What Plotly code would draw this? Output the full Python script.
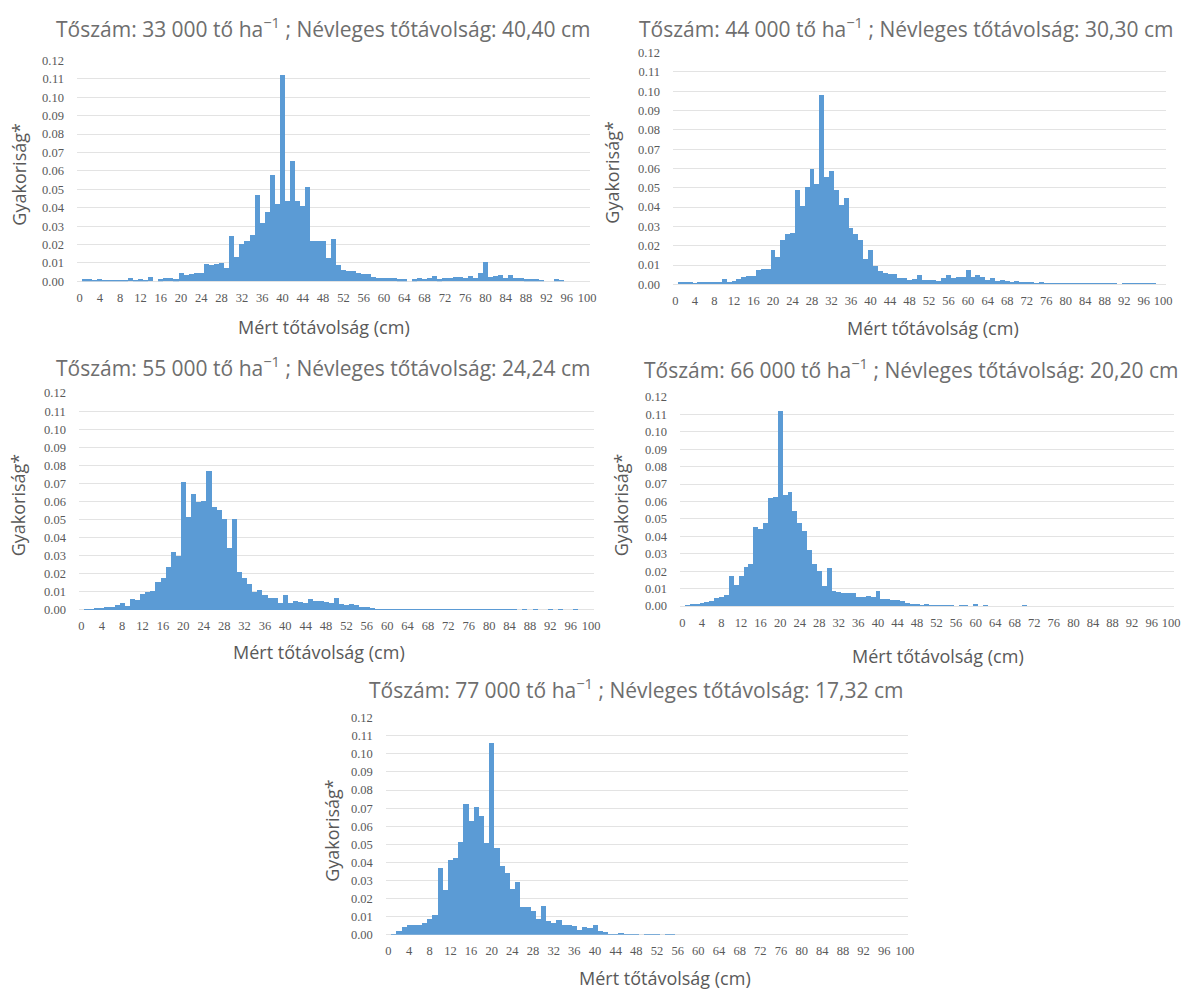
import plotly.graph_objects as go

W, H = 1199, 994

# ---- data: bin centres (cm) and relative frequencies -------------------------
bins = list(range(101))
x_tick_labels = list(range(0, 101, 4))

freq_33000 = [0, 0.001, 0.001, 0.0005, 0.001, 0.0005, 0.0005, 0.0007, 0.0007, 0.0007,
              0.0015, 0.0007, 0.001, 0.0008, 0.002, 0, 0.001, 0.0015, 0.0015, 0.001,
              0.0045, 0.0033, 0.004, 0.0042, 0.0045, 0.0095, 0.009, 0.0095, 0.0097, 0.007,
              0.0245, 0.0133, 0.02, 0.022, 0.0253, 0.0465, 0.0315, 0.0377, 0.0575, 0.042,
              0.112, 0.0434, 0.0655, 0.0434, 0.0407, 0.0513, 0.022, 0.022, 0.022, 0.0124,
              0.023, 0.0088, 0.0058, 0.0053, 0.0053, 0.0045, 0.004, 0.004, 0.0022, 0.0015,
              0.0018, 0.0015, 0.0018, 0.001, 0.001, 0, 0.001, 0.0018, 0.0012, 0.0015,
              0.0028, 0.001, 0.0018, 0.0015, 0.002, 0.002, 0.0015, 0.003, 0.0015, 0.0045,
              0.0105, 0.002, 0.0025, 0.0035, 0.0015, 0.0033, 0.0015, 0.0015, 0.001, 0.001,
              0.001, 0.0004, 0, 0, 0.001, 0.0008, 0, 0, 0, 0, 0]

freq_44000 = [0, 0.001, 0.0008, 0.0008, 0.0003, 0.001, 0.0006, 0.0006, 0.0006, 0.001,
              0.0024, 0.0012, 0.0017, 0.0026, 0.0035, 0.0042, 0.0042, 0.0072, 0.0079, 0.0075,
              0.0175, 0.0142, 0.0226, 0.0256, 0.0265, 0.0488, 0.0405, 0.05, 0.0596, 0.052,
              0.098, 0.0554, 0.0586, 0.0484, 0.0409, 0.0444, 0.0291, 0.0256, 0.023, 0.013,
              0.0175, 0.0091, 0.0068, 0.0056, 0.0053, 0.0053, 0.0033, 0.003, 0.002, 0.0025,
              0.0045, 0.002, 0.002, 0.002, 0.0015, 0.003, 0.0045, 0.003, 0.0035, 0.0035,
              0.007, 0.0035, 0.0045, 0.0035, 0.002, 0.003, 0.0015, 0.002, 0.0015, 0.0005,
              0.0015, 0.0005, 0.0005, 0.0008, 0.0003, 0.0008, 0.0003, 0.0003, 0.0003, 0.0003,
              0.0003, 0.0003, 0.0003, 0.0003, 0.0003, 0.0003, 0.0003, 0.0003, 0.0003, 0.0003,
              0.0003, 0, 0.0003, 0.0003, 0.0003, 0.0003, 0.0003, 0.0003, 0.0003, 0, 0]

freq_55000 = [0, 0.0002, 0.0005, 0.001, 0.001, 0.002, 0.0015, 0.0027, 0.0038, 0.0023,
              0.006, 0.0054, 0.0087, 0.01, 0.0108, 0.0155, 0.0177, 0.0236, 0.032, 0.0298,
              0.0709, 0.0516, 0.0643, 0.0597, 0.0606, 0.0767, 0.0569, 0.0556, 0.0505, 0.0345,
              0.0502, 0.0213, 0.0177, 0.0144, 0.0101, 0.011, 0.0081, 0.0069, 0.0069, 0.0042,
              0.0081, 0.0042, 0.005, 0.0045, 0.0042, 0.006, 0.005, 0.005, 0.0045, 0.0038,
              0.0067, 0.0032, 0.003, 0.0032, 0.0027, 0.002, 0.0015, 0.001, 0.0008, 0.0002,
              0.0002, 0.0005, 0.0002, 0.0003, 0.0002, 0.0002, 0.0002, 0.0002, 0.0002, 0.0002,
              0.0002, 0.0002, 0.0002, 0.0002, 0.0002, 0.0002, 0.0002, 0.0002, 0.0002, 0.0002,
              0.0002, 0.0002, 0.0002, 0.0002, 0.0002, 0.0002, 0, 0.0002, 0, 0.0002,
              0, 0, 0.0002, 0, 0.0002, 0, 0, 0.0002, 0, 0, 0]

freq_66000 = [0, 0.0004, 0.0011, 0.0015, 0.0019, 0.0022, 0.0028, 0.0045, 0.0053, 0.0062,
              0.0171, 0.0122, 0.0173, 0.0225, 0.024, 0.0456, 0.0441, 0.0477, 0.0621, 0.0629,
              0.1118, 0.0638, 0.0657, 0.0544, 0.0478, 0.043, 0.032, 0.024, 0.02, 0.0118,
              0.0221, 0.009, 0.0083, 0.0075, 0.0075, 0.0075, 0.0053, 0.0053, 0.006, 0.0053,
              0.0086, 0.0043, 0.004, 0.0037, 0.0034, 0.0028, 0.002, 0.0015, 0.0012, 0.0005,
              0.0015, 0.0006, 0.0005, 0.0003, 0.0002, 0.0002, 0, 0.0002, 0.0002, 0,
              0.001, 0, 0.0003, 0, 0, 0, 0, 0, 0, 0,
              0.0004, 0, 0, 0, 0, 0, 0, 0, 0, 0,
              0, 0, 0, 0, 0, 0, 0, 0, 0, 0,
              0, 0, 0, 0, 0, 0, 0, 0, 0, 0, 0]

freq_77000 = [0, 0.0004, 0.0022, 0.0045, 0.0054, 0.0054, 0.0054, 0.0065, 0.009, 0.0112,
              0.0373, 0.0248, 0.0413, 0.0424, 0.0516, 0.0725, 0.0634, 0.0707, 0.0661, 0.0507,
              0.106, 0.048, 0.038, 0.0344, 0.0257, 0.0293, 0.0154, 0.0154, 0.0136, 0.0087,
              0.0163, 0.0076, 0.0069, 0.0082, 0.0058, 0.0054, 0.0049, 0.0027, 0.0045, 0.004,
              0.0054, 0.0022, 0.0015, 0.0009, 0.0004, 0.001, 0.0003, 0.0005, 0.0005, 0,
              0.0003, 0.0003, 0.0003, 0, 0.0005, 0.0004, 0, 0, 0, 0,
              0, 0, 0, 0, 0, 0, 0, 0, 0, 0,
              0, 0, 0, 0, 0, 0, 0, 0, 0, 0,
              0, 0, 0, 0, 0, 0, 0, 0, 0, 0,
              0, 0, 0, 0, 0, 0, 0, 0, 0, 0, 0]

titles = [
    "Tőszám: 33 000 tő ha<sup>−1</sup> ; Névleges tőtávolság: 40,40 cm",
    "Tőszám: 44 000 tő ha<sup>−1</sup> ; Névleges tőtávolság: 30,30 cm",
    "Tőszám: 55 000 tő ha<sup>−1</sup> ; Névleges tőtávolság: 24,24 cm",
    "Tőszám: 66 000 tő ha<sup>−1</sup> ; Névleges tőtávolság: 20,20 cm",
    "Tőszám: 77 000 tő ha<sup>−1</sup> ; Névleges tőtávolság: 17,32 cm",
]
y_title = "Gyakoriság*"
x_title = "Mért tőtávolság (cm)"

series = [freq_33000, freq_44000, freq_55000, freq_66000, freq_77000]

# ---- layout geometry (pixels) ----------------------------------------------
geom = [
    dict(rect=(76.5, 592.5, 55, 279), title=(324, 22), xt=(325, 325), yt=(18, 170)),
    dict(rect=(676.5, 1172.5, 47, 282), title=(911, 22), xt=(938, 326), yt=(615, 168)),
    dict(rect=(78.4, 596.6, 392, 612), title=(324, 365), xt=(320, 655), yt=(18, 505)),
    dict(rect=(683.5, 1180.5, 396, 608), title=(916, 367), xt=(943, 659), yt=(625, 505)),
    dict(rect=(387.4, 912.6, 721, 941), title=(639, 692), xt=(668, 985), yt=(333, 835)),
]

BLUE = "#5B9BD5"
GRID = "#E3E3E3"
TXT = "#595959"
TITLE_C = "#6E6E6E"
SANS = "Open Sans, Noto Sans, sans-serif"
SERIF = "Liberation Serif, DejaVu Serif, serif"

fig = go.Figure()
annotations = []
layout = dict(width=W, height=H, margin=dict(l=0, r=0, t=0, b=0),
              paper_bgcolor="white", plot_bgcolor="white", showlegend=False,
              bargap=0)

for i, (vals, g, ttl) in enumerate(zip(series, geom, titles), start=1):
    x0, x1, yt_, yb_ = g["rect"]
    xa = "x" if i == 1 else f"x{i}"
    ya = "y" if i == 1 else f"y{i}"
    fig.add_trace(go.Bar(x=bins, y=vals, xaxis=xa, yaxis=ya, width=1,
                         marker=dict(color=BLUE, line=dict(width=0)),
                         hoverinfo="x+y"))
    layout[f"xaxis{'' if i == 1 else i}"] = dict(
        domain=[x0 / W, x1 / W], anchor=ya, range=[-0.5, 100.5],
        tickmode="array", tickvals=x_tick_labels, ticktext=[str(v) for v in x_tick_labels],
        tickangle=0, ticks="", showgrid=False, showline=False, zeroline=False,
        tickfont=dict(family=SERIF, size=12.5, color=TXT), ticklabelstandoff=7,
        fixedrange=True)
    layout[f"yaxis{'' if i == 1 else i}"] = dict(
        domain=[1 - yb_ / H, 1 - yt_ / H], anchor=xa, range=[0, 0.1201],
        dtick=0.01, tick0=0, tickformat=".2f", ticks="",
        showgrid=True, gridcolor=GRID, gridwidth=1,
        zeroline=True, zerolinecolor=GRID, zerolinewidth=1, showline=False,
        tickfont=dict(family=SERIF, size=12.5, color=TXT), ticklabelstandoff=12,
        fixedrange=True)
    annotations.append(dict(text=ttl, x=g["title"][0] / W, y=1 - g["title"][1] / H,
                            xref="paper", yref="paper", showarrow=False,
                            xanchor="center", yanchor="middle",
                            font=dict(family=SANS, size=21, color=TITLE_C)))
    annotations.append(dict(text=x_title, x=g["xt"][0] / W, y=1 - g["xt"][1] / H,
                            xref="paper", yref="paper", showarrow=False,
                            xanchor="center", yanchor="middle",
                            font=dict(family=SANS, size=18, color=TXT)))
    annotations.append(dict(text=y_title, x=g["yt"][0] / W, y=1 - g["yt"][1] / H,
                            xref="paper", yref="paper", showarrow=False, textangle=-90,
                            xanchor="center", yanchor="middle",
                            font=dict(family=SANS, size=18, color=TXT)))

layout["annotations"] = annotations
fig.update_layout(**layout)
fig.write_html("out.html", config={"displayModeBar": False},
               post_script="document.body.style.margin='0';document.body.style.overflow='hidden';")
